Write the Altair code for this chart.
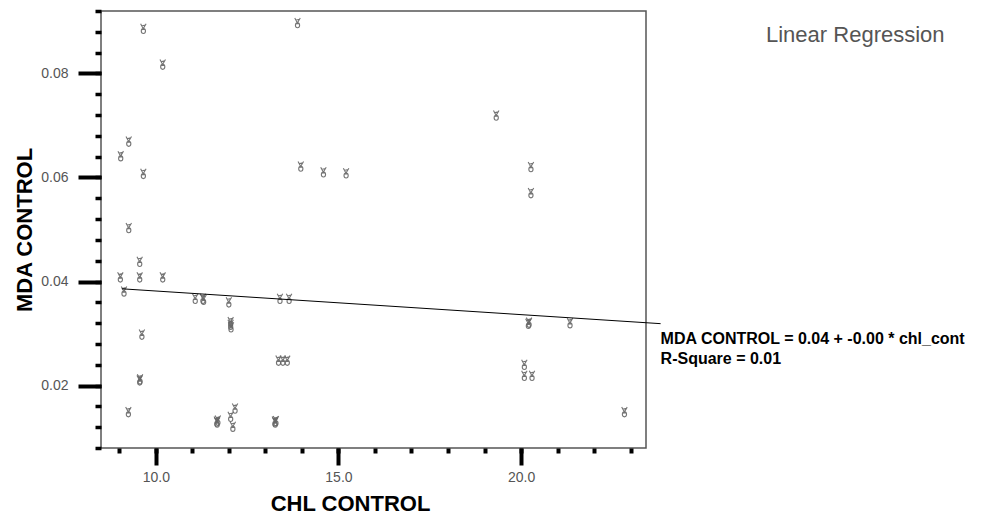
import altair as alt
import pandas as pd

# --- data ---
chl = [
    9.66, 10.19, 13.88,
    9.26, 9.04, 9.66, 9.26,
    13.97, 14.59, 15.21,
    19.32, 20.27, 20.27,
    9.56, 9.03, 9.56, 10.19,
    9.13,
    11.08, 11.29, 11.31,
    12.00,
    12.05, 12.05, 12.06,
    13.40, 13.65,
    9.62,
    13.36, 13.48, 13.60,
    9.56, 9.57,
    9.25,
    11.67, 11.68, 11.70,
    12.05, 12.17, 12.11,
    13.26, 13.27, 13.29,
    20.20, 20.22,
    21.34,
    20.09, 20.09, 20.30,
    22.83,
]
mda = [
    0.0886, 0.0817, 0.0897,
    0.0669, 0.0641, 0.0607, 0.0503,
    0.0621, 0.0610, 0.0608,
    0.0719, 0.0620, 0.0570,
    0.0438, 0.0408, 0.0408, 0.0408,
    0.0381,
    0.0367, 0.0367, 0.0365,
    0.0360,
    0.0322, 0.0317, 0.0312,
    0.0367, 0.0367,
    0.0298,
    0.0248, 0.0248, 0.0248,
    0.0210, 0.0212,
    0.0149,
    0.0131, 0.0129, 0.0133,
    0.0140, 0.0156, 0.0121,
    0.0131, 0.0129, 0.0132,
    0.0319, 0.0321,
    0.0320,
    0.0240, 0.0219, 0.0219,
    0.0149,
]

# fitted line end points
line_x = [9.07, 23.82]
line_y = [0.0386, 0.0319]

x_major = [10, 15, 20]
x_minor = list(range(9, 24))
y_major = [0.02, 0.04, 0.06, 0.08]
y_minor = [round(0.008 + 0.004 * i, 3) for i in range(22)]

x_domain = [8.5, 23.42]
y_domain = [0.008, 0.092]

eq_lines = ["MDA CONTROL = 0.04 + -0.00 * chl_cont", "R-Square = 0.01"]
legend_text = "Linear Regression"

pts = pd.DataFrame({"chl": chl, "mda": mda})
line_df = pd.DataFrame({"chl": line_x, "mda": line_y})
ann_df = pd.DataFrame({"chl": [line_x[-1]], "mda": [line_y[-1]]})
lab_df = pd.DataFrame({"label": [legend_text]})

FONT = "Liberation Sans"

# SPSS-like "victory hand" marker drawn as a custom symbol path
MARKER = (
    "M -0.55 -1 L -0.1 -0.15 "
    "M 0.55 -1 L 0.05 -0.15 "
    "M -0.4 -0.55 L 0.4 -0.75 "
    "M -0.42 0.45 A 0.42 0.5 0 1 0 0.42 0.45 A 0.42 0.5 0 1 0 -0.42 0.45 "
    "M -0.42 0.2 L 0.3 0.1"
)

x_scale = alt.Scale(domain=x_domain, nice=False, zero=False)
y_scale = alt.Scale(domain=y_domain, nice=False, zero=False)

x_axis_major = alt.Axis(
    orient="bottom", values=x_major, format=".1f", grid=False, domain=False,
    tickSize=17, tickWidth=4, tickColor="black",
    labelFont=FONT, labelFontSize=14, labelColor="#555555", labelPadding=5,
    title="CHL CONTROL", titleFont=FONT, titleFontSize=22, titleFontWeight="bold",
    titleColor="black", titleX=249, titleY=62, titleAlign="center",
    titleBaseline="alphabetic",
)
x_axis_minor = alt.Axis(
    orient="bottom", values=x_minor, labels=False, grid=False, domain=False,
    tickSize=5, tickWidth=4, tickColor="black", title=None,
)
y_axis_major = alt.Axis(
    orient="left", values=y_major, format=".2f", grid=False, domain=False,
    tickSize=23, tickWidth=4, tickColor="black",
    labelFont=FONT, labelFontSize=14, labelColor="#555555", labelPadding=10,
    title="MDA CONTROL", titleFont=FONT, titleFontSize=22, titleFontWeight="bold",
    titleColor="black", titleX=-70, titleY=218.5, titleAlign="center",
    titleBaseline="alphabetic", titleAngle=270,
)
y_axis_minor = alt.Axis(
    orient="left", values=y_minor, labels=False, grid=False, domain=False,
    tickSize=6, tickWidth=3.5, tickColor="black", title=None,
)

points = alt.Chart(pts).mark_point(
    shape=MARKER, size=100, filled=False, color="#666666",
    strokeWidth=1.1, opacity=0.9,
).encode(
    x=alt.X("chl:Q", scale=x_scale, axis=x_axis_major),
    y=alt.Y("mda:Q", scale=y_scale, axis=y_axis_major),
)

reg = alt.Chart(line_df).mark_line(color="black", strokeWidth=1).encode(
    x=alt.X("chl:Q", scale=x_scale, axis=x_axis_minor),
    y=alt.Y("mda:Q", scale=y_scale, axis=y_axis_minor),
)

ann = alt.Chart(ann_df).mark_text(
    align="left", baseline="top", dy=7, font=FONT, fontSize=16,
    fontWeight="bold", color="black", lineHeight=20,
).encode(
    x=alt.X("chl:Q", scale=x_scale, axis=None),
    y=alt.Y("mda:Q", scale=y_scale, axis=None),
    text=alt.value(eq_lines),
)

lab = alt.Chart(lab_df).mark_text(
    align="left", baseline="alphabetic", font=FONT, fontSize=22, color="#555555",
).encode(
    x=alt.value(665), y=alt.value(31), text="label:N",
)

chart = (
    alt.layer(points, reg, ann, lab)
    .resolve_axis(x="independent", y="independent")
    .properties(
        width=545, height=437,
        autosize=alt.AutoSizeParams(type="none"),
        padding={"left": 93, "top": 3, "right": 328, "bottom": 68},
        background="white",
    )
    .configure_view(stroke="#555555", strokeWidth=1.5)
)

chart.save("out.html", embed_options={"renderer": "svg", "actions": False})
